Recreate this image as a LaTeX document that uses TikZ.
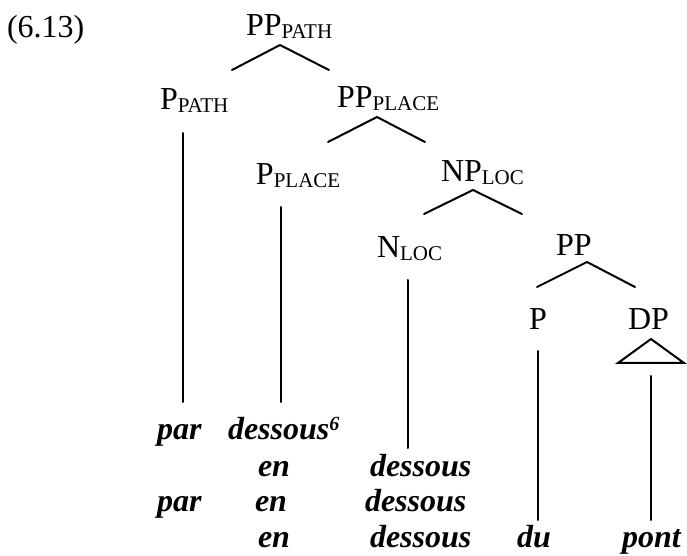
\documentclass[tikz,border=0pt]{standalone}
\usepackage{fontspec}
\setmainfont{Liberation Serif}
\newcommand{\lab}[2]{#1\raisebox{-1.2pt}{\fontsize{10.5}{12}\selectfont #2}}
\begin{document}
\begin{tikzpicture}[x=0.5pt,y=-0.5pt,
  cat/.style={anchor=base west,inner sep=0pt,outer sep=0pt,font=\fontsize{16}{19}\selectfont},
  word/.style={anchor=base west,inner sep=0pt,outer sep=0pt,font=\fontsize{16}{19}\selectfont\bfseries\itshape},
  edge/.style={line width=1pt,line cap=round,line join=miter}]
\useasboundingbox (0,0) rectangle (687,556);
% example number
\node[cat] (num) at (7,38) {(6.13)};
% category labels
\node[cat] (pppath) at (246,36) {\lab{PP}{PATH}};
\node[cat] (ppath) at (160,110) {\lab{P}{PATH}};
\node[cat] (ppplace) at (337,108) {\lab{PP}{PLACE}};
\node[cat] (pplace) at (256,185) {\lab{P}{PLACE}};
\node[cat] (nploc) at (441,182) {\lab{NP}{LOC}};
\node[cat] (nloc) at (377,258) {\lab{N}{LOC}};
\node[cat] (pp) at (556,256) {PP};
\node[cat] (p) at (529,330) {P};
\node[cat] (dp) at (628,330) {DP};
% branch coordinates
\coordinate (a1) at (280,45); \coordinate (a1l) at (232,70); \coordinate (a1r) at (329,70);
\coordinate (a2) at (377,117); \coordinate (a2l) at (328,142); \coordinate (a2r) at (425,142);
\coordinate (a3) at (473,190); \coordinate (a3l) at (424,214); \coordinate (a3r) at (522,214);
\coordinate (a4) at (587,262); \coordinate (a4l) at (537,287); \coordinate (a4r) at (635,287);
\coordinate (t) at (651,339); \coordinate (tl) at (618,363); \coordinate (tr) at (684,363);
\draw[edge] (a1l) -- (a1) -- (a1r);
\draw[edge] (a2l) -- (a2) -- (a2r);
\draw[edge] (a3l) -- (a3) -- (a3r);
\draw[edge] (a4l) -- (a4) -- (a4r);
\draw[edge] (t) -- (tl) -- (tr) -- cycle;
% vertical lines
\coordinate (v1t) at (183,133); \coordinate (v1b) at (183,402);
\coordinate (v2t) at (281,207); \coordinate (v2b) at (281,402);
\coordinate (v3t) at (408,280); \coordinate (v3b) at (408,448);
\coordinate (v4t) at (538,351); \coordinate (v4b) at (538,520);
\coordinate (v5t) at (651,376); \coordinate (v5b) at (651,520);
\draw[edge] (v1t) -- (v1b);
\draw[edge] (v2t) -- (v2b);
\draw[edge] (v3t) -- (v3b);
\draw[edge] (v4t) -- (v4b);
\draw[edge] (v5t) -- (v5b);
% words
\node[word] (w1a) at (157,440) {par};
\node[word] (w1b) at (228,440) {dessous\raisebox{5pt}{\fontsize{10}{12}\selectfont 6}};
\node[word] (w2a) at (258,477) {en};
\node[word] (w2b) at (370,477) {dessous};
\node[word] (w3a) at (157,512) {par};
\node[word] (w3b) at (255,512) {en};
\node[word] (w3c) at (365,512) {dessous};
\node[word] (w4a) at (258,547) {en};
\node[word] (w4b) at (370,547) {dessous};
\node[word] (w4c) at (517,547) {du};
\node[word] (w4d) at (622,547) {pont};
\end{tikzpicture}
\end{document}
